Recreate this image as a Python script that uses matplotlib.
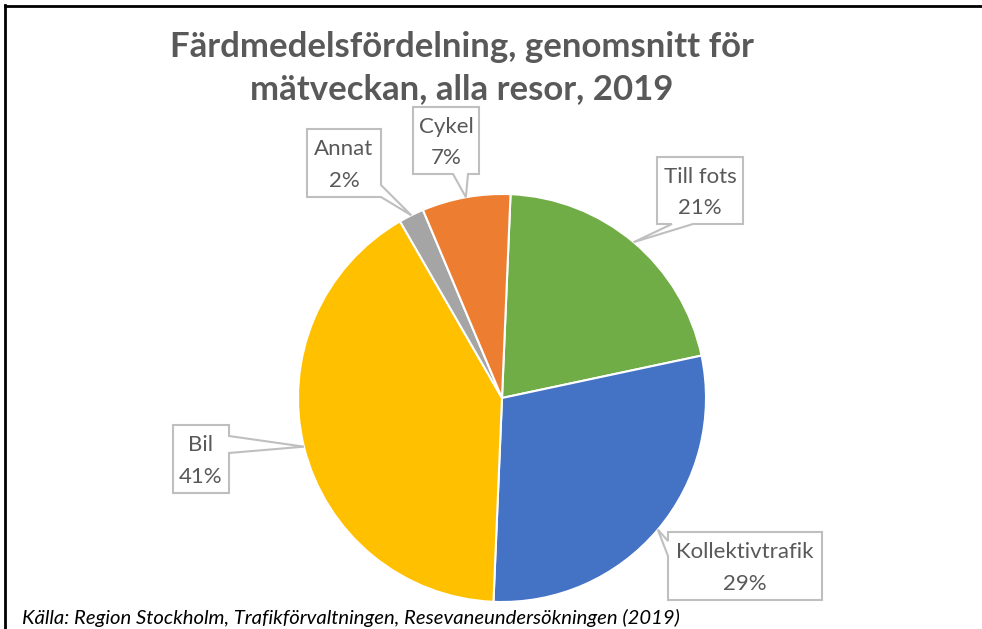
"""
Färdmedelsfördelning pie chart with callout labels
"""

import numpy as np
import matplotlib
matplotlib.use("Agg")
import matplotlib.pyplot as plt
from matplotlib.patches import Polygon

W, H = 982, 629

labels = ["Till fots", "Kollektivtrafik", "Bil", "Annat", "Cykel"]
values = [21, 29, 41, 2, 7]
colors = ["#70AD47", "#4472C4", "#FFC000", "#A5A5A5", "#ED7D31"]

title = "Färdmedelsfördelning, genomsnitt för\nmätveckan, alla resor, 2019"
source = "Källa: Region Stockholm, Trafikförvaltningen, Resevaneundersökningen (2019)"

# callout boxes in pixels (x0, y0, x1, y1 from top-left), pointer side and base
boxes = {
    "Till fots": ((657, 157, 743, 224), "bottom", 672, 693),
    "Kollektivtrafik": ((668, 532, 822, 600), "left", 541, 556),
    "Bil": ((173, 425, 229, 493), "right", 436, 453),
    "Annat": ((307, 129, 381, 197), "right", 185, 197),
    "Cykel": ((413, 107, 479, 174), "bottom", 453, 468),
}

plt.rcParams["font.family"] = ["Lato", "DejaVu Sans"]
TXT = "#595959"
EDGE = "#BFBFBF"

fig = plt.figure(figsize=(W / 100, H / 100), dpi=100)
ax = fig.add_axes([0, 0, 1, 1])

cx, cy, R = 502, H - 398, 204
wedges, _ = ax.pie(values, colors=colors, startangle=87.6, counterclock=False,
                   center=(cx, cy), radius=R,
                   wedgeprops=dict(edgecolor="white", linewidth=1.5))
ax.set_xlim(0, W)
ax.set_ylim(0, H)
ax.set_aspect("equal")
ax.axis("off")


def callout(box, side, b0, b1, tip):
    # everything in pixels from top-left, converted at the end
    x0, y0, x1, y1 = box
    if side == "top":
        pts = [(x0, y0), (b0, y0), tip, (b1, y0), (x1, y0), (x1, y1), (x0, y1)]
    elif side == "right":
        pts = [(x0, y0), (x1, y0), (x1, b0), tip, (x1, b1), (x1, y1), (x0, y1)]
    elif side == "bottom":
        pts = [(x0, y0), (x1, y0), (x1, y1), (b1, y1), tip, (b0, y1), (x0, y1)]
    else:
        pts = [(x0, y0), (x1, y0), (x1, y1), (x0, y1), (x0, b1), tip, (x0, b0)]
    pts = [(px, H - py) for px, py in pts]
    ax.add_patch(Polygon(pts, closed=True, facecolor="white", edgecolor=EDGE,
                         linewidth=1.5, zorder=5))


for w, name, val in zip(wedges, labels, values):
    mid = np.deg2rad((w.theta1 + w.theta2) / 2)
    tip_x = cx + R * np.cos(mid)
    tip_y = H - (cy + R * np.sin(mid))
    box, side, b0, b1 = boxes[name]
    callout(box, side, b0, b1, (tip_x, tip_y))
    x0, y0, x1, y1 = box
    xm = (x0 + x1) / 2
    hgt = y1 - y0
    ax.text(xm, H - (y0 + 0.30 * hgt), name, ha="center", va="center",
            fontsize=16, color=TXT, zorder=6)
    ax.text(xm, H - (y0 + 0.76 * hgt), f"{val}%", ha="center", va="center",
            fontsize=16, color=TXT, zorder=6)

# title
ax.text(462, H - 68, title, ha="center", va="center", fontsize=25,
        fontweight="bold", color=TXT, linespacing=1.38)

# source
ax.text(22, H - 618, source, ha="left", va="center", fontsize=14.6,
        style="italic", color="black")

# frame lines (left and top only)
ax.plot([5.5, 5.5], [0, H - 5], color="black", lw=2, solid_capstyle="projecting")
ax.plot([5.5, W], [H - 6, H - 6], color="black", lw=2, solid_capstyle="projecting")

fig.savefig("out.png", dpi=100)
plt.close(fig)
